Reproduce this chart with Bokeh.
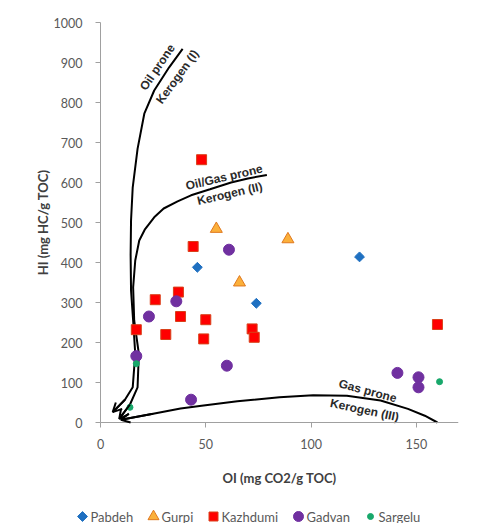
import math
from bokeh.plotting import figure
from bokeh.models import Range1d, FixedTicker, Arrow, OpenHead
from bokeh.core.properties import value
from bokeh.embed import file_html
from bokeh.resources import INLINE

# ---------------- data ----------------
series_names = ["Pabdeh", "Gurpi", "Kazhdumi", "Gadvan", "Sargelu"]

pabdeh_oi = [46, 74, 123]
pabdeh_hi = [388, 298, 414]

gurpi_oi = [55, 66, 89]
gurpi_hi = [484, 350, 458]

kazhdumi_oi = [48, 44, 37, 26, 38, 50, 17, 31, 49, 72, 73, 160]
kazhdumi_hi = [657, 440, 326, 307, 265, 257, 232, 220, 209, 234, 213, 245]

gadvan_oi = [61, 36, 23, 17, 60, 43, 141, 151, 151]
gadvan_hi = [432, 303, 265, 166, 142, 57, 124, 113, 88]

sargelu_oi = [17, 14, 161]
sargelu_hi = [147, 38, 102]

# kerogen type boundary curves (ending at the arrow tip)
kerogen1_oi = [39, 32.6, 25.5, 20.8, 17.6, 15.3, 14.5, 14.3, 14.5, 15.5, 16.5, 15.3, 11.6, 5.8]
kerogen1_hi = [934, 888, 830, 772, 684, 588, 505, 420, 330, 255, 172, 88, 57, 26]

kerogen2_oi = [79, 70, 62, 52, 43, 36.6, 30, 25.5, 21, 18.4, 16.5, 15.5, 16, 18.2, 17.6, 14, 8.9]
kerogen2_hi = [619, 610, 600, 583, 568, 553, 535, 513, 482, 455, 405, 338, 255, 172, 88, 45, 9]

kerogen3_oi = [160, 154, 146, 133, 117, 101, 85, 65, 48, 38, 25, 9.7]
kerogen3_hi = [0, 17, 34, 55, 67, 68, 63, 53, 42, 35, 22, 7]

curve_labels = ["Oil prone", "Kerogen (I)", "Oil/Gas prone", "Kerogen (II)", "Gas prone", "Kerogen (III)"]

x_min, x_max = 0, 170
y_min, y_max = 0, 1000
x_ticks = [0, 50, 100, 150]
y_ticks = [0, 100, 200, 300, 400, 500, 600, 700, 800, 900, 1000]

x_title = "OI (mg CO2/g TOC)"
y_title = "HI (mg HC/g TOC)"

# ---------------- layout / style ----------------
W, H = 477, 523
AX_L, AX_R, AX_T, AX_B = 100, 458, 22, 422      # pixel box of the data area

label_oi = [27.0, 36.5, 58.7, 61.4, 126.9, 125.4]
label_hi = [888, 864, 613, 572, 79, 31]
label_deg = [56, 54, 13, 13, -15, -12]

# the frame covers the whole canvas left of AX_R; the axes are pinned at 0
ux = (AX_R - AX_L) / (x_max - x_min)
uy = (AX_B - AX_T) / (y_max - y_min)
xr = Range1d(x_min - AX_L / ux, x_max)
yr = Range1d(y_min - (H - AX_B) / uy, y_max + AX_T / uy)


def px_to_x(px):
    return x_min + (px - AX_L) / ux


def py_to_y(py):
    return y_min + (AX_B - py) / uy


p = figure(width=W, height=H, x_range=xr, y_range=yr,
           output_backend="svg", toolbar_location=None,
           min_border_left=0, min_border_right=W - AX_R,
           min_border_top=0, min_border_bottom=0)

p.xgrid.visible = False
p.ygrid.visible = False
p.outline_line_color = None
p.background_fill_color = "white"
p.border_fill_color = "white"

axis_gray = "#a0a0a0"
for ax in (p.xaxis, p.yaxis):
    ax.axis_line_color = axis_gray
    ax.major_tick_line_color = axis_gray
    ax.major_tick_out = 5
    ax.major_tick_in = 0
    ax.minor_tick_line_color = None
    ax.major_label_text_font = "Lato"
    ax.major_label_text_font_size = "12.5px"
    ax.major_label_text_color = "#595959"
    ax.axis_label_text_font = "Lato"
    ax.axis_label_text_font_size = "13px"
    ax.axis_label_text_font_style = "bold"
    ax.axis_label_text_color = "#404040"

p.xaxis.fixed_location = y_min
p.yaxis.fixed_location = x_min
p.xaxis.bounds = (x_min, x_max)
p.yaxis.bounds = (y_min, y_max)
p.xaxis.ticker = FixedTicker(ticks=x_ticks)
p.yaxis.ticker = FixedTicker(ticks=y_ticks)
p.xaxis.axis_label = x_title
p.yaxis.axis_label = y_title
p.xaxis.major_label_standoff = 11
p.xaxis.axis_label_standoff = 18
p.yaxis.major_label_standoff = 13
p.yaxis.axis_label_standoff = 0

# curves with arrow heads
for cx, cy in ((kerogen1_oi, kerogen1_hi), (kerogen2_oi, kerogen2_hi), (kerogen3_oi, kerogen3_hi)):
    p.line(cx, cy, line_color="black", line_width=2)
    p.add_layout(Arrow(end=OpenHead(size=9, line_width=2, line_color="black"),
                       x_start=cx[-2], y_start=cy[-2], x_end=cx[-1], y_end=cy[-1],
                       line_width=2, line_color="black"))

p.text(x=label_oi, y=label_hi, text=curve_labels,
       angle=[math.radians(a) for a in label_deg],
       text_font=value("Liberation Sans"), text_font_style="bold",
       text_font_size="12px", text_color="#2a2a2a",
       text_align="center", text_baseline="middle")

# series
marker_styles = [
    dict(marker="square", angle=math.pi / 4, size=7, fill_color="#1f70c1", line_color="#1f70c1"),
    dict(marker="triangle", size=12, fill_color="#fbb03b", line_color="#e0781e"),
    dict(marker="square", size=10, fill_color="#ff0000", line_color="#d9401a"),
    dict(marker="circle", size=11, fill_color="#7030a0", line_color="#7030a0"),
    dict(marker="circle", size=6, fill_color="#18a86b", line_color="#18a86b"),
]
series_oi = [pabdeh_oi, gurpi_oi, kazhdumi_oi, gadvan_oi, sargelu_oi]
series_hi = [pabdeh_hi, gurpi_hi, kazhdumi_hi, gadvan_hi, sargelu_hi]
for xs, ys, st in zip(series_oi, series_hi, marker_styles):
    p.scatter(xs, ys, **st)

# legend row (pixel layout converted through the plot's scales)
legend_center_x = [82, 153, 213, 298, 370]
legend_center_y = 516
legend_marker_px = [7, 11, 9, 10, 6]
for name, st, cx, mpx in zip(series_names, marker_styles, legend_center_x, legend_marker_px):
    st2 = dict(st)
    st2["size"] = mpx
    p.scatter([px_to_x(cx)], [py_to_y(legend_center_y)], **st2)
    p.text(x=[px_to_x(cx + 8)], y=[py_to_y(legend_center_y)], text=[name],
           text_font=value("Lato"), text_font_size="13px", text_color="#595959",
           text_align="left", text_baseline="middle")

open("out.html", "w").write(file_html(p, INLINE))
